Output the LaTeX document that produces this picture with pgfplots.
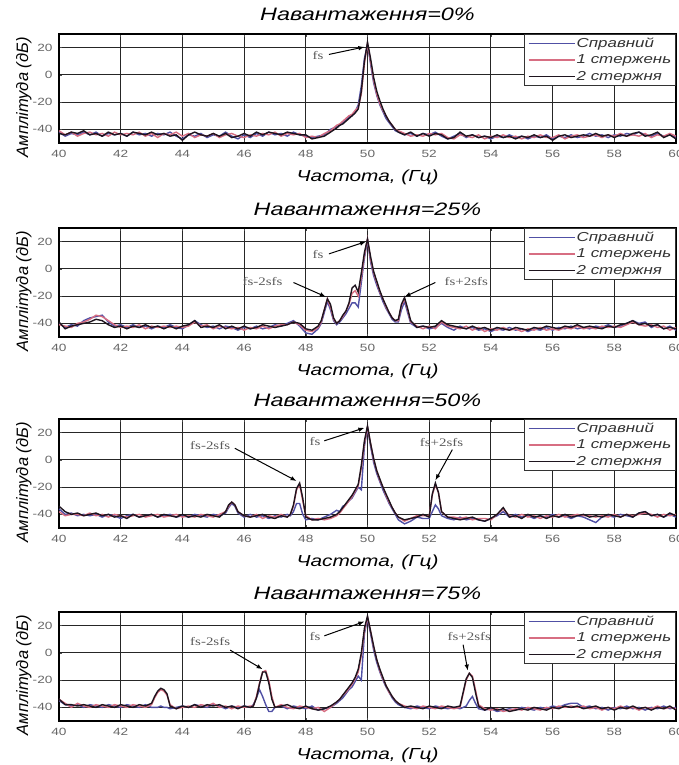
\documentclass[border=0pt]{standalone}
\usepackage{fontspec}
\setmainfont{Liberation Sans}[FakeStretch=1.3]
\newfontfamily\plainsans{Liberation Sans}
\newfontfamily\annfont{Liberation Serif}[FakeStretch=1.3]
\usepackage{pgfplots}
\usepackage{pgfplotstable}
\pgfplotsset{compat=1.18}
\usetikzlibrary{arrows.meta}

\definecolor{cA}{RGB}{80,80,165}
\definecolor{cB}{RGB}{215,110,130}
\definecolor{cC}{RGB}{30,20,30}

\pgfplotstableread{
x a b c
40.0 -42 -41 -43
40.2 -45 -44 -44
40.4 -43 -42 -42
40.6 -44 -45 -43
40.8 -42 -43 -41
41.0 -44 -42 -44
41.2 -42 -44 -43
41.4 -45 -43 -45
41.6 -43 -45 -42
41.8 -44 -42 -44
42.0 -43 -44 -43
42.2 -45 -43 -45
42.4 -42 -44 -42
42.6 -44 -42 -43
42.8 -43 -45 -44
43.0 -45 -43 -42
43.2 -43 -46 -44
43.4 -44 -43 -43
43.6 -42 -44 -45
43.8 -45 -42 -44
44.0 -47 -45 -48
44.2 -44 -43 -44
44.4 -45 -46 -42
44.6 -43 -44 -44
44.8 -46 -45 -45
45.0 -44 -43 -43
45.2 -45 -46 -45
45.4 -42 -44 -43
45.6 -45 -43 -46
45.8 -47 -45 -45
46.0 -44 -46 -43
46.2 -46 -44 -45
46.4 -43 -45 -42
46.6 -45 -43 -44
46.8 -42 -44 -42
47.0 -44 -42 -43
47.2 -43 -45 -44
47.4 -45 -43 -42
47.6 -42 -44 -43
47.8 -44 -43 -44
48.0 -45 -46 -44
48.2 -46 -45 -47
48.4 -45 -46 -46
48.6 -44 -43 -45
48.8 -40 -41 -42
49.0 -38 -37 -39
49.1 -37 -36 -37
49.2 -35 -34 -36
49.3 -33 -32 -34
49.4 -31 -30 -32
49.5 -30 -29 -30
49.6 -27 -26 -28
49.7 -22 -24 -25
49.8 -8 -14 -12
49.9 12 8 10
50.0 22 23 24
50.1 8 10 12
50.2 -6 -4 -2
50.3 -15 -14 -12
50.4 -22 -21 -19
50.5 -27 -26 -25
50.6 -32 -30 -30
50.7 -35 -34 -34
50.8 -38 -37 -37
50.9 -41 -40 -40
51.0 -42 -41 -42
51.2 -44 -43 -44
51.4 -43 -45 -42
51.6 -45 -44 -45
51.8 -43 -45 -43
52.0 -44 -43 -45
52.2 -42 -44 -43
52.4 -45 -43 -44
52.6 -47 -46 -47
52.8 -45 -47 -46
53.0 -43 -44 -42
53.2 -46 -45 -45
53.4 -44 -46 -44
53.6 -46 -44 -46
53.8 -45 -47 -45
54.0 -47 -45 -46
54.2 -45 -46 -44
54.4 -46 -44 -46
54.6 -44 -46 -45
54.8 -46 -45 -47
55.0 -45 -47 -45
55.2 -47 -45 -46
55.4 -45 -46 -44
55.6 -46 -44 -46
55.8 -44 -46 -45
56.0 -47 -46 -48
56.2 -45 -44 -45
56.4 -46 -47 -44
56.6 -44 -45 -46
56.8 -46 -44 -45
57.0 -45 -46 -44
57.2 -43 -45 -45
57.4 -45 -44 -43
57.6 -44 -46 -45
57.8 -46 -44 -44
58.0 -44 -45 -46
58.2 -45 -43 -44
58.4 -43 -45 -45
58.6 -44 -44 -43
58.8 -42 -45 -42
59.0 -44 -43 -45
59.2 -45 -46 -44
59.4 -43 -44 -42
59.6 -45 -45 -46
59.8 -44 -43 -44
60.0 -46 -45 -47
}\tA

\pgfplotstableread{
x a b c
40.0 -40 -41 -39
40.2 -43 -42 -44
40.4 -41 -43 -42
40.6 -42 -40 -41
40.8 -38 -39 -40
41.0 -36 -37 -39
41.2 -35 -34 -37
41.4 -34 -35 -38
41.6 -39 -38 -41
41.8 -42 -41 -43
42.0 -41 -43 -42
42.2 -43 -42 -44
42.4 -41 -43 -42
42.6 -43 -41 -43
42.8 -42 -44 -41
43.0 -44 -42 -43
43.2 -42 -43 -42
43.4 -43 -42 -44
43.6 -41 -43 -42
43.8 -43 -42 -44
44.0 -44 -43 -42
44.2 -41 -42 -41
44.4 -38 -39 -38
44.6 -41 -42 -43
44.8 -43 -41 -42
45.0 -42 -44 -43
45.2 -44 -42 -41
45.4 -42 -43 -44
45.6 -43 -44 -42
45.8 -45 -43 -44
46.0 -43 -45 -42
46.2 -44 -43 -44
46.4 -42 -44 -43
46.6 -44 -42 -41
46.8 -43 -44 -42
47.0 -41 -42 -43
47.2 -42 -41 -42
47.4 -40 -41 -41
47.6 -38 -39 -39
47.8 -42 -41 -40
48.0 -47 -45 -44
48.2 -48 -46 -45
48.4 -44 -43 -42
48.5 -40 -39 -38
48.6 -32 -30 -30
48.7 -24 -22 -22
48.8 -30 -28 -26
48.9 -38 -37 -36
49.0 -41 -40 -40
49.1 -39 -38 -38
49.2 -36 -35 -34
49.3 -33 -31 -31
49.4 -29 -26 -25
49.5 -25 -18 -14
49.6 -25 -16 -12
49.7 -28 -20 -17
49.8 -10 -6 -3
49.9 8 10 12
50.0 21 22 22
50.1 5 7 9
50.2 -5 -3 -2
50.3 -12 -10 -9
50.4 -18 -17 -16
50.5 -24 -22 -22
50.6 -29 -28 -27
50.7 -33 -32 -32
50.8 -37 -36 -36
50.9 -39 -38 -38
51.0 -39 -38 -37
51.1 -30 -27 -26
51.2 -24 -22 -21
51.3 -32 -30 -29
51.4 -40 -39 -38
51.6 -43 -42 -43
51.8 -42 -44 -42
52.0 -44 -42 -43
52.2 -43 -44 -42
52.4 -40 -39 -38
52.6 -43 -42 -41
52.8 -45 -43 -42
53.0 -42 -44 -43
53.2 -44 -42 -44
53.4 -43 -45 -42
53.6 -45 -43 -44
53.8 -44 -46 -43
54.0 -46 -44 -45
54.2 -44 -45 -43
54.4 -45 -43 -44
54.6 -43 -45 -45
54.8 -45 -44 -43
55.0 -44 -46 -44
55.2 -46 -44 -45
55.4 -44 -45 -43
55.6 -45 -43 -44
55.8 -43 -45 -42
56.0 -45 -44 -43
56.2 -43 -45 -44
56.4 -44 -43 -42
56.6 -42 -44 -43
56.8 -44 -42 -41
57.0 -43 -44 -43
57.2 -44 -43 -42
57.4 -42 -44 -43
57.6 -43 -42 -44
57.8 -41 -43 -42
58.0 -43 -42 -43
58.2 -42 -43 -41
58.4 -40 -41 -40
58.6 -38 -39 -38
58.8 -40 -41 -41
59.0 -39 -42 -40
59.2 -43 -41 -42
59.4 -41 -43 -41
59.6 -44 -42 -44
59.8 -42 -45 -43
60.0 -45 -43 -44
}\tB

\pgfplotstableread{
x a b c
40.0 -36 -38 -34
40.2 -40 -41 -38
40.4 -39 -40 -40
40.6 -41 -40 -39
40.8 -40 -41 -41
41.0 -41 -39 -40
41.2 -40 -41 -39
41.4 -42 -40 -41
41.6 -40 -42 -40
41.8 -41 -40 -42
42.0 -43 -41 -41
42.2 -41 -42 -43
42.4 -40 -41 -40
42.6 -42 -40 -42
42.8 -41 -42 -41
43.0 -40 -41 -40
43.2 -42 -40 -42
43.4 -41 -42 -40
43.6 -40 -41 -41
43.8 -42 -40 -42
44.0 -41 -42 -40
44.2 -42 -41 -42
44.4 -40 -42 -41
44.6 -41 -40 -42
44.8 -42 -41 -40
45.0 -40 -42 -41
45.2 -41 -40 -42
45.4 -39 -38 -38
45.5 -35 -34 -33
45.6 -32 -31 -31
45.7 -34 -33 -33
45.8 -39 -38 -38
46.0 -42 -41 -41
46.2 -40 -42 -42
46.4 -42 -40 -41
46.6 -41 -43 -40
46.8 -43 -41 -42
47.0 -41 -42 -43
47.2 -42 -40 -41
47.4 -40 -42 -42
47.5 -41 -40 -40
47.6 -38 -34 -33
47.7 -32 -22 -21
47.8 -32 -18 -17
47.9 -40 -30 -28
48.0 -44 -41 -42
48.2 -43 -44 -44
48.4 -44 -43 -44
48.6 -42 -44 -43
48.8 -40 -43 -42
49.0 -37 -41 -40
49.1 -38 -39 -38
49.2 -34 -36 -35
49.3 -33 -33 -32
49.4 -30 -30 -29
49.5 -28 -27 -26
49.6 -24 -23 -22
49.7 -20 -19 -18
49.8 -22 -6 -4
49.9 10 12 14
50.0 23 24 25
50.1 10 12 12
50.2 -2 0 1
50.3 -10 -8 -8
50.4 -16 -15 -14
50.5 -22 -20 -20
50.6 -27 -26 -25
50.7 -32 -31 -30
50.8 -36 -35 -35
50.9 -40 -39 -39
51.0 -44 -42 -42
51.2 -47 -45 -44
51.4 -45 -43 -43
51.6 -42 -41 -42
51.8 -43 -41 -40
52.0 -43 -41 -42
52.1 -38 -26 -25
52.2 -33 -18 -17
52.3 -36 -24 -24
52.4 -41 -38 -38
52.6 -43 -42 -42
52.8 -44 -42 -43
53.0 -42 -43 -44
53.2 -44 -42 -43
53.4 -43 -44 -42
53.6 -44 -43 -44
53.8 -45 -43 -45
54.0 -43 -44 -43
54.2 -41 -40 -40
54.4 -38 -36 -35
54.6 -42 -41 -42
54.8 -40 -42 -41
55.0 -42 -40 -43
55.2 -41 -42 -40
55.4 -43 -41 -42
55.6 -41 -43 -41
55.8 -42 -41 -43
56.0 -40 -42 -41
56.2 -42 -40 -42
56.4 -41 -42 -40
56.6 -43 -41 -42
56.8 -41 -40 -41
57.0 -42 -41 -40
57.2 -44 -41 -42
57.4 -46 -42 -41
57.6 -42 -41 -42
57.8 -41 -42 -40
58.0 -42 -40 -41
58.2 -40 -42 -42
58.4 -41 -40 -40
58.6 -42 -41 -42
58.8 -39 -40 -39
59.0 -38 -39 -38
59.2 -41 -40 -41
59.4 -40 -42 -40
59.6 -42 -40 -42
59.8 -40 -41 -39
60.0 -42 -40 -41
}\tC

\pgfplotstableread{
x a b c
40.0 -35 -34 -34
40.2 -38 -37 -38
40.4 -39 -40 -38
40.6 -38 -37 -39
40.8 -40 -39 -38
41.0 -38 -40 -39
41.2 -39 -38 -40
41.4 -40 -39 -38
41.6 -38 -40 -39
41.8 -39 -38 -40
42.0 -40 -39 -38
42.2 -38 -40 -39
42.4 -39 -38 -40
42.6 -40 -39 -38
42.8 -38 -40 -39
43.0 -40 -38 -37
43.1 -40 -33 -32
43.2 -40 -29 -28
43.3 -39 -27 -26
43.4 -40 -28 -27
43.5 -40 -31 -30
43.6 -41 -38 -39
43.8 -40 -41 -41
44.0 -39 -40 -39
44.2 -40 -39 -40
44.4 -38 -40 -38
44.6 -39 -38 -40
44.8 -40 -39 -38
45.0 -38 -37 -39
45.2 -39 -40 -38
45.4 -41 -39 -40
45.6 -39 -41 -39
45.8 -40 -39 -41
46.0 -39 -40 -39
46.2 -40 -39 -40
46.3 -38 -39 -39
46.4 -33 -32 -33
46.5 -27 -22 -23
46.6 -32 -14 -14
46.7 -38 -13 -14
46.8 -43 -20 -22
46.9 -43 -32 -34
47.0 -40 -40 -40
47.2 -39 -38 -39
47.4 -41 -40 -38
47.6 -39 -41 -40
47.8 -40 -39 -41
48.0 -41 -40 -39
48.2 -39 -41 -41
48.4 -42 -40 -42
48.6 -41 -43 -41
48.8 -40 -40 -39
49.0 -37 -36 -36
49.1 -35 -34 -34
49.2 -33 -31 -31
49.3 -30 -29 -28
49.4 -27 -26 -25
49.5 -25 -23 -22
49.6 -21 -19 -18
49.7 -17 -14 -12
49.8 -20 -2 0
49.9 14 16 18
50.0 25 26 27
50.1 14 16 16
50.2 2 4 5
50.3 -7 -5 -5
50.4 -14 -13 -12
50.5 -20 -19 -18
50.6 -25 -24 -24
50.7 -29 -29 -28
50.8 -33 -32 -32
50.9 -36 -35 -35
51.0 -38 -37 -37
51.2 -40 -39 -40
51.4 -41 -40 -39
51.6 -39 -41 -40
51.8 -40 -39 -41
52.0 -41 -40 -39
52.2 -39 -41 -40
52.4 -40 -39 -41
52.6 -41 -40 -39
52.8 -40 -41 -40
53.0 -41 -40 -39
53.1 -40 -30 -29
53.2 -39 -20 -19
53.3 -35 -15 -15
53.4 -32 -17 -18
53.5 -37 -27 -29
53.6 -41 -38 -39
53.8 -42 -41 -42
54.0 -41 -42 -40
54.2 -43 -41 -42
54.4 -42 -43 -41
54.6 -41 -42 -43
54.8 -42 -41 -42
55.0 -40 -42 -41
55.2 -41 -40 -42
55.4 -42 -41 -40
55.6 -40 -42 -41
55.8 -41 -40 -42
56.0 -39 -41 -40
56.2 -40 -39 -41
56.4 -38 -40 -39
56.6 -37 -39 -40
56.8 -37 -40 -39
57.0 -40 -39 -41
57.2 -39 -41 -40
57.4 -41 -40 -39
57.6 -40 -42 -41
57.8 -42 -40 -40
58.0 -40 -41 -42
58.2 -41 -39 -40
58.4 -39 -41 -41
58.6 -41 -40 -39
58.8 -40 -42 -41
59.0 -42 -40 -40
59.2 -40 -41 -42
59.4 -41 -39 -40
59.6 -39 -41 -41
59.8 -41 -40 -39
60.0 -40 -41 -42
}\tD

\pgfplotsset{panel/.style={
  scale only axis, width=617pt, height=109pt,
  anchor=north west,
  xmin=40, xmax=60, ymin=-50, ymax=30,
  xtick={40,42,...,60}, ytick={-40,-20,0,20},
  grid=major, major grid style={black!85, line width=1.1pt},
  axis line style={black, line width=1.1pt},
  tick style={black!70, line width=0.5pt}, major tick length=3pt,
  tick align=inside,
  /pgf/number format/assume math mode=true,
  ticklabel style={font=\fontsize{10.5}{12}\selectfont, text=black!60},
  xticklabel style={yshift=-3.5pt},
  yticklabel style={xshift=-3pt},
  xlabel={Частота, (Гц)},
  xlabel style={at={(axis description cs:0.5,0)}, anchor=center, yshift=-34pt, font=\fontsize{16}{18}\selectfont\itshape},
  ylabel={Амплітуда (дБ)},
  ylabel style={at={(axis description cs:-0.057,0.42)}, anchor=center, font=\plainsans\fontsize{16.5}{18}\selectfont\itshape},
  title style={at={(axis description cs:0.5,1)}, anchor=base, yshift=7pt, font=\fontsize{18}{20}\selectfont\itshape},
  legend style={at={(1,1)}, anchor=north east, draw=black!80, line width=0.7pt,
    font=\fontsize{13}{15}\selectfont\itshape, text=black!80, cells={anchor=west},
    nodes={inner sep=1.5pt}, inner xsep=3pt, inner ysep=2pt, row sep=3pt},
  legend image code/.code={\draw[#1,line width=1.4pt] (0pt,0pt) -- (46pt,0pt);},
  every axis plot/.append style={line width=1.4pt},
}}

\newcommand{\annot}[7]{%
  \node[font=\annfont\fontsize{11.5}{12}\selectfont, text=black!65, inner sep=1pt] at (axis cs:#2,#3) {#1};
  \draw[black, line width=1pt, -{Latex[length=6pt,width=4.5pt]}] (axis cs:#4,#5) -- (axis cs:#6,#7);}

\begin{document}
\begin{tikzpicture}
\useasboundingbox (-59pt,34pt) rectangle (619pt,-731pt);

\begin{axis}[panel, at={(0pt,0pt)}, title={Навантаження=0\%}]
\addplot[cA] table[x=x,y=a]{\tA};
\addplot[cB] table[x=x,y=b]{\tA};
\addplot[cC] table[x=x,y=c]{\tA};
\legend{Справний,1 стержень,2 стержня}
\annot{fs}{48.4}{14.5}{48.75}{15}{49.9}{20.5}
\end{axis}

\begin{axis}[panel, at={(0pt,-194pt)}, title={Навантаження=25\%}]
\addplot[cA] table[x=x,y=a]{\tB};
\addplot[cB] table[x=x,y=b]{\tB};
\addplot[cC] table[x=x,y=c]{\tB};
\legend{Справний,1 стержень,2 стержня}
\annot{fs}{48.4}{10.3}{48.75}{11}{49.95}{20}
\annot{fs-2sfs}{46.6}{-9.4}{47.6}{-10}{48.65}{-20.5}
\annot{fs+2sfs}{53.2}{-9.4}{52.2}{-10}{51.2}{-20.5}
\end{axis}

\begin{axis}[panel, at={(0pt,-385pt)}, title={Навантаження=50\%}]
\addplot[cA] table[x=x,y=a]{\tC};
\addplot[cB] table[x=x,y=b]{\tC};
\addplot[cC] table[x=x,y=c]{\tC};
\legend{Справний,1 стержень,2 стержня}
\annot{fs-2sfs}{44.9}{10.3}{45.7}{8.5}{47.7}{-15.5}
\annot{fs}{48.3}{13.2}{48.6}{14}{49.9}{23.5}
\annot{fs+2sfs}{52.4}{13}{52.75}{7.5}{52.2}{-15}
\end{axis}

\begin{axis}[panel, at={(0pt,-578pt)}, title={Навантаження=75\%}]
\addplot[cA] table[x=x,y=a]{\tD};
\addplot[cB] table[x=x,y=b]{\tD};
\addplot[cC] table[x=x,y=c]{\tD};
\legend{Справний,1 стержень,2 стержня}
\annot{fs-2sfs}{44.9}{8}{45.55}{2}{46.6}{-12}
\annot{fs}{48.3}{11.8}{48.6}{12.5}{49.9}{23}
\annot{fs+2sfs}{53.3}{12}{53.1}{6}{53.25}{-13}
\end{axis}
\end{tikzpicture}
\end{document}
